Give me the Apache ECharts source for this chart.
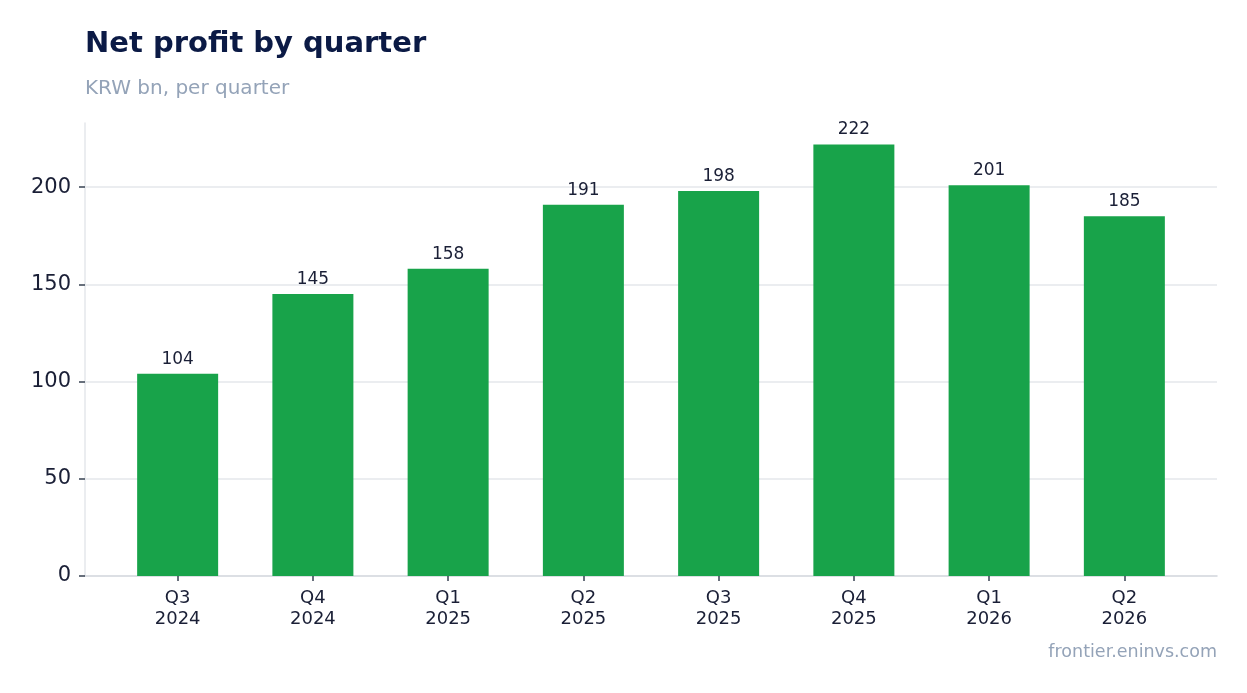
<!DOCTYPE html>
<html><head><meta charset="utf-8">
<script src="https://cdn.jsdelivr.net/npm/echarts@6/dist/echarts.min.js"></script>
<style>html,body{margin:0;padding:0;background:#fff}#c{width:1247px;height:693px}</style>
</head><body><div id="c"></div>
<script>
const categories = ['Q3\n2024','Q4\n2024','Q1\n2025','Q2\n2025','Q3\n2025','Q4\n2025','Q1\n2026','Q2\n2026'];
const netProfit = [104, 145, 158, 191, 198, 222, 201, 185];
const yTicks = [0, 50, 100, 150, 200];
const titleText = 'Net profit by quarter';
const subtitleText = 'KRW bn, per quarter';
const sourceText = 'frontier.eninvs.com';

const font = 'DejaVu Sans';
const xPositions = categories.map((c, i) => i);
const barData = netProfit.map((v, i) => [i, v]);
const chart = echarts.init(document.getElementById('c'));
chart.setOption({
  animation: false,
  backgroundColor: '#ffffff',
  textStyle: {fontFamily: font},
  title: [
    {text: titleText, left: 80, top: 25, textStyle: {fontFamily: font, fontSize: 29, fontWeight: 'bold', color: '#0b1a45'}},
    {text: subtitleText, left: 80, top: 74, textStyle: {fontFamily: font, fontSize: 20, fontWeight: 'normal', color: '#94a3b8'}}
  ],
  graphic: [{
    type: 'text', right: 30, top: 643,
    style: {text: sourceText, fontFamily: font, fontSize: 17.5, fill: '#94a3b8', textAlign: 'right'}
  }],
  grid: {left: 85, right: 30, top: 123, bottom: 117, containLabel: false},
  xAxis: {
    type: 'value', min: -0.685, max: 7.685,
    splitLine: {show: false},
    axisLine: {show: true, onZero: false, lineStyle: {color: '#d1d5db', width: 1.5}},
    axisTick: {show: true, length: 5, customValues: xPositions, lineStyle: {color: '#374151', width: 1.5}},
    axisLabel: {fontFamily: font, fontSize: 18, color: '#1a1f36', lineHeight: 21, margin: 12,
      customValues: xPositions, formatter: v => categories[Math.round(v)] || ''}
  },
  yAxis: {
    type: 'value', min: 0, max: 233, interval: 50,
    axisLine: {show: true, onZero: false, lineStyle: {color: '#e5e7eb', width: 1.5}},
    axisTick: {show: true, length: 6, customValues: yTicks, lineStyle: {color: '#374151', width: 1.5}},
    axisLabel: {fontFamily: font, fontSize: 21, color: '#1a1f36', margin: 14, customValues: yTicks},
    splitLine: {show: true, showMinLine: false, lineStyle: {color: '#e5e7eb', width: 1.5}}
  },
  series: [{
    type: 'bar', data: barData, barWidth: 81,
    itemStyle: {color: '#18a34a'},
    label: {show: true, position: 'top', distance: 6, fontFamily: font, fontSize: 17, color: '#1a1f36',
      formatter: p => p.value[1]}
  }]
});
</script></body></html>
